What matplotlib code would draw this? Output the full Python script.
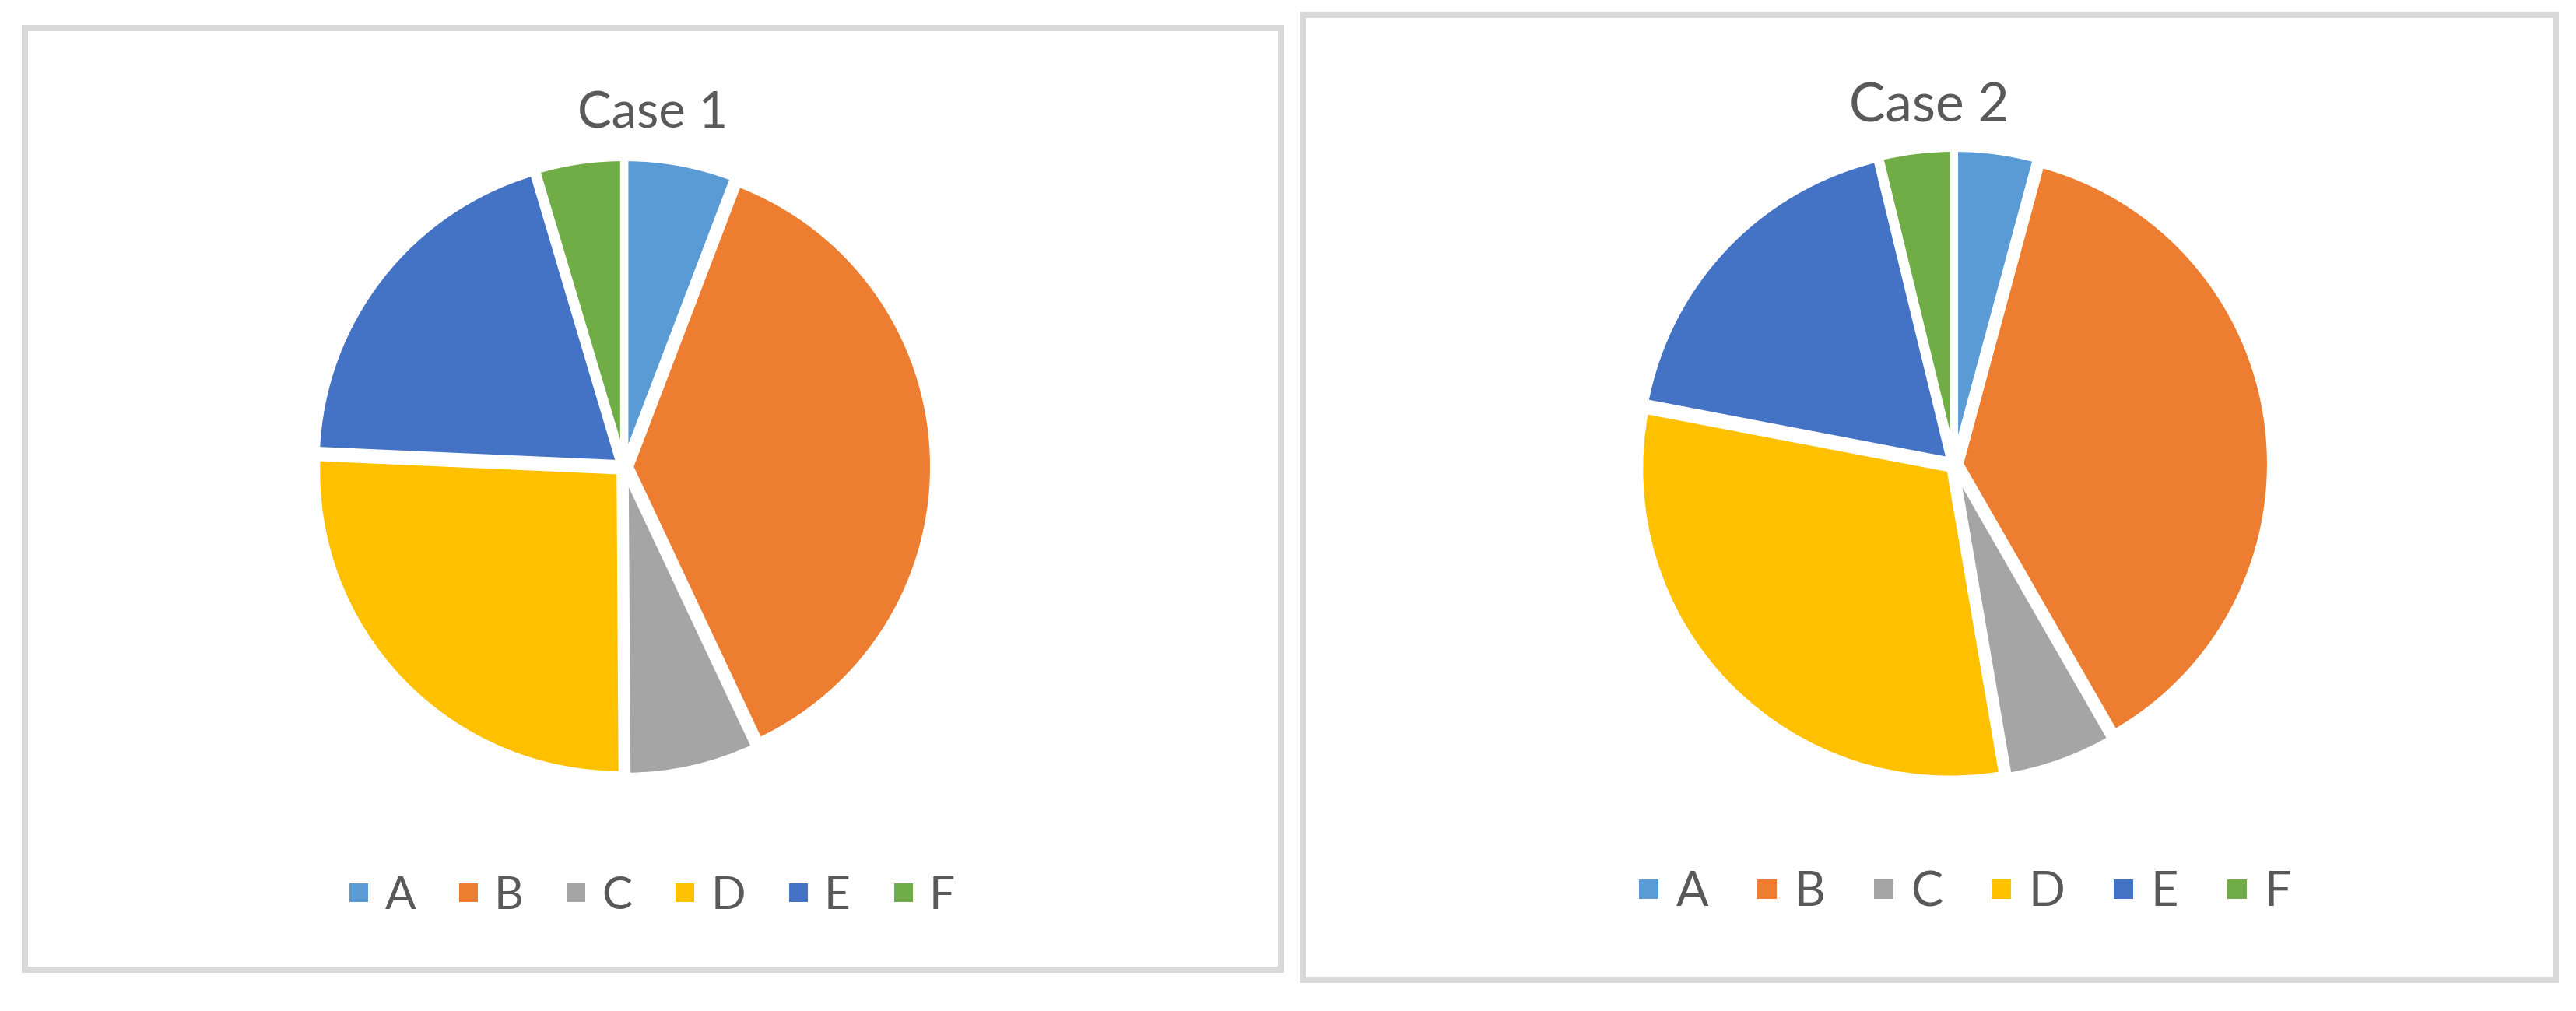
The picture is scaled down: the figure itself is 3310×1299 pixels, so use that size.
import matplotlib
matplotlib.use("Agg")
import matplotlib.pyplot as plt
from matplotlib.patches import Rectangle

plt.rcParams['font.family'] = ['Lato', 'DejaVu Sans']

# ---- data ----
categories = ['A', 'B', 'C', 'D', 'E', 'F']
case1_values = [5.8, 37.2, 6.9, 25.8, 19.7, 4.6]
case2_values = [4.2, 37.5, 5.6, 30.7, 18.2, 3.8]
titles = ['Case 1', 'Case 2']
colors = ['#5B9BD5', '#ED7D31', '#A5A5A5', '#FFC000', '#4472C4', '#70AD47']

W, H = 3310, 1299
DPI = 100
fig = plt.figure(figsize=(W / DPI, H / DPI), dpi=DPI)
fig.patch.set_facecolor('white')
ax = fig.add_axes([0, 0, 1, 1])

def Y(y):
    return H - y

px = 72.0 / DPI  # points per pixel
text_color = '#595959'
border_color = '#D9D9D9'

# panel borders (pixel coords, centre of line)
panels = [(32, 36, 1646, 1246), (1674, 19, 3284, 1259)]
for (x0, y0, x1, y1) in panels:
    ax.add_patch(Rectangle((x0, Y(y1)), x1 - x0, y1 - y0, fill=False,
                           edgecolor=border_color, linewidth=8 * px,
                           joinstyle='miter'))

specs = [
    dict(values=case1_values, center=(802, 600), r=389, title_xy=(839, 164),
         tsize=47, leg_xy=(838, 1152), lsize=42.2, colsp=0.95),
    dict(values=case2_values, center=(2511, 597), r=398, title_xy=(2479, 156),
         tsize=50, leg_xy=(2525, 1147), lsize=44.3, colsp=1.02),
]

for i, s in enumerate(specs):
    cx, cy = s['center']
    wedges, _ = ax.pie(s['values'], colors=colors, startangle=90,
                       counterclock=False, center=(cx, Y(cy)), radius=s['r'],
                       explode=[8] * len(categories),
                       wedgeprops=dict(edgecolor='white', linewidth=8 * px,
                                       joinstyle='miter'))
    ax.text(s['title_xy'][0], Y(s['title_xy'][1]), titles[i], ha='center',
            va='baseline', fontsize=s['tsize'], color=text_color)
    leg = fig.legend(wedges, categories, loc='center',
                     bbox_to_anchor=(s['leg_xy'][0] / W, 1 - s['leg_xy'][1] / H),
                     ncol=len(categories), frameon=False, fontsize=s['lsize'],
                     handlelength=0.41, handleheight=0.254, handletextpad=0.36,
                     columnspacing=s['colsp'], borderpad=0, borderaxespad=0)
    for t in leg.get_texts():
        t.set_color(text_color)
    for h in leg.legend_handles:
        h.set_edgecolor('none')
        h.set_linewidth(0)

ax.set_xlim(0, W)
ax.set_ylim(0, H)
ax.set_aspect('equal')
ax.axis('off')

fig.savefig('out.png', dpi=DPI, facecolor='white')
